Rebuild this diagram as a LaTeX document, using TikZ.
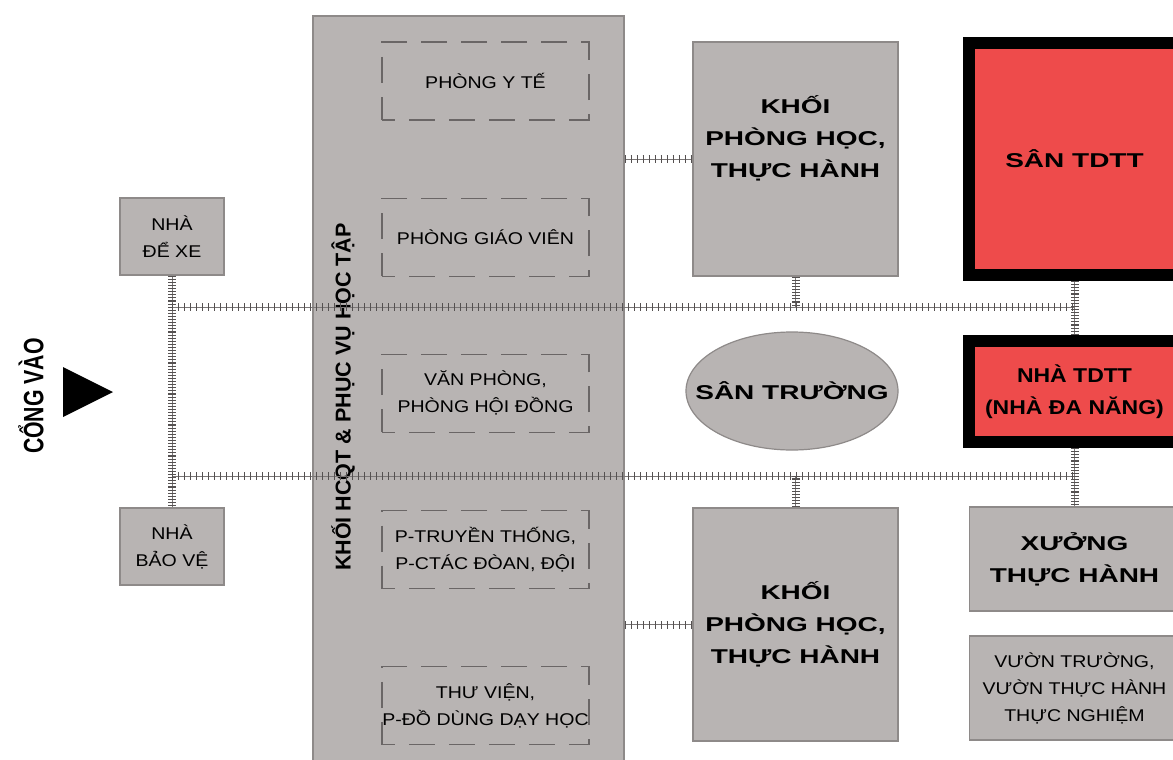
\documentclass[tikz,border=0pt]{standalone}
\usepackage{fontspec}
\setmainfont{Liberation Sans}
\newfontfamily\widerm[FakeStretch=1.15]{Liberation Sans}
\newfontfamily\widebf[FakeStretch=1.4]{Liberation Sans}
\newfontfamily\narrowbf[FakeStretch=0.76]{Liberation Sans}
\usetikzlibrary{positioning, shapes.geometric}
\definecolor{blockgray}{HTML}{B8B4B3}
\definecolor{edgegray}{HTML}{8E8A89}
\definecolor{dashgray}{HTML}{6A6666}
\definecolor{courtred}{HTML}{EE4B4B}
\definecolor{railgray}{HTML}{7A7676}
\definecolor{tickgray}{HTML}{555151}

\begin{document}
\begin{tikzpicture}[x=1pt, y=-1pt, node distance=77pt,
  block/.style={draw=edgegray, line width=1.2pt, fill=blockgray, inner sep=0pt, align=center},
  room/.style={draw=dashgray, line width=1.2pt, dash pattern=on 26pt off 14pt, dash phase=13pt,
               minimum width=207pt, minimum height=78pt, inner sep=0pt, align=center,
               font=\widerm\fontsize{17}{27}\selectfont},
  small/.style={block, font=\widerm\fontsize{17}{27}\selectfont},
  big/.style={block, font=\widebf\bfseries\fontsize{20}{32}\selectfont},
  court/.style={draw=black, line width=12pt, fill=courtred, inner sep=0pt, align=center},
  htrack/.style={draw=railgray, line width=1pt,
                 postaction={draw=tickgray, line width=8pt, dash pattern=on 1.3pt off 4.7pt}},
  vtrack/.style={draw=railgray, line width=1pt,
                 postaction={draw=tickgray, line width=8pt, dash pattern=on 1.1pt off 2pt}}]
\useasboundingbox (0,0) rectangle (1173,760);
\fill[white] (0,0) rectangle (1173,760);

% khoi hanh chinh quan tri
\node[block, minimum width=311pt, minimum height=760pt] (hcqt) at (468.5,396) {};
\node[rotate=90, font=\bfseries\fontsize{21.5}{26}\selectfont] (hcqttitle) at (343,397)
  {KHỐI HCQT \& PHỤC VỤ HỌC TẬP};
\node[room] (yte) at (485.5,81) {PHÒNG Y TẾ};
\node[room, below=of yte] (giaovien) {PHÒNG GIÁO VIÊN};
\node[room, below=of giaovien] (vanphong) {VĂN PHÒNG,\\ PHÒNG HỘI ĐỒNG};
\node[room, below=of vanphong] (truyenthong) {P-TRUYỀN THỐNG,\\ P-CTÁC ĐÒAN, ĐỘI};
\node[room, below=of truyenthong] (thuvien) {THƯ VIỆN,\\ P-ĐỒ DÙNG DẠY HỌC};

% cong vao
\node[rotate=90, font=\narrowbf\bfseries\fontsize{28}{30}\selectfont] (congvao) at (31,396) {CỔNG VÀO};
\fill[black] (63,367) -- (113,392) -- (63,417) -- cycle;
\node[small, minimum width=104pt, minimum height=77pt] (dexe) at (172,236.5) {NHÀ\\ ĐỂ XE};
\node[small, minimum width=104pt, minimum height=77pt] (baove) at (172,546.5) {NHÀ\\ BẢO VỆ};

% khoi phong hoc, san truong
\node[block, minimum width=205pt, minimum height=234pt] (khoi1) at (795.5,159) {};
\node[font=\widebf\bfseries\fontsize{20}{32}\selectfont, align=center] (khoi1text)
  at ([yshift=21pt]khoi1.center) {KHỐI\\ PHÒNG HỌC,\\ THỰC HÀNH};
\node[big, minimum width=205pt, minimum height=233pt] (khoi2) at (795.5,624.5)
  {KHỐI\\ PHÒNG HỌC,\\ THỰC HÀNH};
\node[ellipse, draw=edgegray, line width=1.2pt, fill=blockgray, minimum width=212pt,
  minimum height=118pt, inner xsep=-24pt, inner ysep=0pt,
  font=\widebf\bfseries\fontsize{20}{24}\selectfont] (santruong) at (792,391) {SÂN TRƯỜNG};

% khu the duc the thao
\node[court, minimum width=211pt, minimum height=232pt,
  font=\widebf\bfseries\fontsize{20}{32}\selectfont] (santdtt) at (1074.5,159) {SÂN TDTT};
\node[court, minimum width=211pt, minimum height=101pt,
  font=\widerm\bfseries\fontsize{20}{32}\selectfont] (nhatdtt) at (1074.5,391.5)
  {NHÀ TDTT\\ (NHÀ ĐA NĂNG)};
\node[big, minimum width=210pt, minimum height=104pt] (xuong) at (1074.5,559) {XƯỞNG\\ THỰC HÀNH};
\node[small, minimum width=210pt, minimum height=104pt] (vuon) at (1074.5,688)
  {VƯỜN TRƯỜNG,\\ VƯỜN THỰC HÀNH\\ THỰC NGHIỆM};

% loi di
\coordinate (railL1) at (172,307);
\coordinate (railR1) at (1074.5,307);
\coordinate (railL2) at (172,476);
\coordinate (railR2) at (1074.5,476);
\draw[vtrack] (dexe) -- (baove);
\draw[htrack] (railL1) -- (railR1);
\draw[htrack] (railL2) -- (railR2);
\draw[vtrack] (santdtt) -- (nhatdtt);
\draw[vtrack] (nhatdtt) -- (xuong);
\draw[vtrack] (khoi1) -- (khoi1 |- railR1);
\draw[vtrack] (khoi2) -- (khoi2 |- railR2);
\draw[htrack] (khoi1.west -| hcqt.east) -- (khoi1);
\draw[htrack] (khoi2.west -| hcqt.east) -- (khoi2);
\end{tikzpicture}
\end{document}
